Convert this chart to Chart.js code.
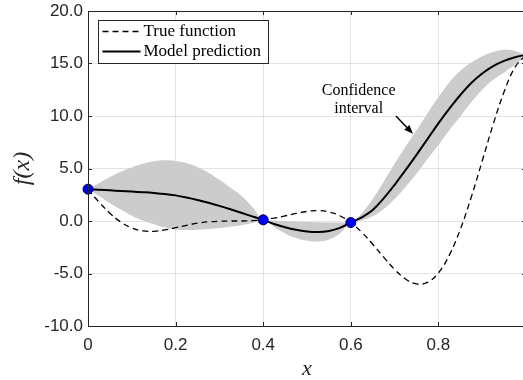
<!DOCTYPE html>
<html>
<head>
<meta charset="utf-8">
<script src="https://cdn.jsdelivr.net/npm/chart.js@4.4.1/dist/chart.umd.min.js"></script>
<style>
  html, body { margin: 0; padding: 0; background: #fff; overflow: hidden; }
  #wrap { width: 526px; height: 380px; }
</style>
</head>
<body>
<div id="wrap"><canvas id="chart" width="526" height="380"></canvas></div>
<script>
// sample positions along x
const xs = [0, 0.025, 0.05, 0.075, 0.1, 0.125, 0.15, 0.175, 0.2, 0.225, 0.25, 0.275, 0.3, 0.325, 0.35, 0.375,
  0.4, 0.425, 0.45, 0.475, 0.5, 0.525, 0.55, 0.575, 0.6, 0.625, 0.65, 0.675, 0.7, 0.725, 0.75, 0.775,
  0.8, 0.825, 0.85, 0.875, 0.9, 0.925, 0.95, 0.975, 1];

// true function (dashed)
const trueY = [3.03, 1.81, 0.74, -0.10, -0.66, -0.94, -0.98, -0.85, -0.64, -0.41, -0.21, -0.08, -0.02, 0.00, 0.00, 0.03,
  0.11, 0.27, 0.48, 0.72, 0.91, 0.99, 0.87, 0.50, -0.15, -1.07, -2.21, -3.44, -4.61, -5.52, -5.99, -5.85,
  -4.95, -3.25, -0.80, 2.27, 5.71, 9.19, 12.30, 14.65, 15.83];

// model prediction (solid)
const meanY = [3.03, 2.97, 2.92, 2.86, 2.80, 2.74, 2.67, 2.58, 2.44, 2.24, 2.00, 1.73, 1.44, 1.12, 0.78, 0.44,
  0.11, -0.28, -0.60, -0.84, -0.99, -1.04, -0.95, -0.66, -0.15, 0.35, 1.05, 2.15, 3.45, 4.85, 6.30, 7.80,
  9.30, 10.70, 12.00, 13.15, 14.05, 14.75, 15.25, 15.60, 15.83];

// confidence interval edges
const upperY = [3.03, 3.60, 4.20, 4.70, 5.10, 5.45, 5.68, 5.78, 5.72, 5.52, 5.14, 4.60, 3.92, 3.18, 2.40, 1.35,
  0.11, 0.05, 0.00, -0.05, -0.10, -0.13, -0.15, -0.15, -0.15, 0.75, 2.10, 3.75, 5.45, 7.10, 8.65, 10.25,
  11.80, 13.20, 14.30, 15.10, 15.70, 16.10, 16.30, 16.20, 15.83];
const lowerY = [3.03, 2.40, 1.70, 1.10, 0.50, 0.05, -0.30, -0.62, -0.80, -0.86, -0.84, -0.77, -0.66, -0.54, -0.40, -0.20,
  0.11, -0.58, -1.18, -1.62, -1.88, -1.95, -1.75, -1.18, -0.15, 0.05, 0.45, 1.15, 2.10, 3.25, 4.50, 5.90,
  7.25, 8.65, 9.95, 11.30, 12.50, 13.45, 14.15, 14.90, 15.83];

// observed samples (the one at x = 1 sits off the visible edge)
const obsX = [0, 0.4, 0.6];
const obsY = [3.03, 0.11, -0.15];

const xTicks = [0, 0.2, 0.4, 0.6, 0.8, 1];
const yTicks = [-10, -5, 0, 5, 10, 15, 20];
const legendLabels = ['True function', 'Model prediction'];
const noteLines = ['Confidence', 'interval'];

// annotation placement in data units
const notePos = { x: 0.618, y: 12.4 };
const arrowFrom = { x: 0.703, y: 10.0 };
const arrowTo = { x: 0.742, y: 8.3 };

const AXIS = '#262626';
const SERIF = '"Liberation Serif", "Times New Roman", serif';
const SANS = '"Liberation Sans", Arial, Helvetica, sans-serif';

const pts = (ys) => xs.map((x, i) => ({ x: x, y: ys[i] }));





// box, inside tick marks, legend and the text note
const decor = {
  id: 'decor',
  afterDatasetsDraw(chart) {
    const { ctx, chartArea: a, scales: { x, y } } = chart;
    ctx.save();
    ctx.strokeStyle = AXIS;
    ctx.lineWidth = 1;
    ctx.beginPath();
    xTicks.forEach(v => {
      const px = Math.round(x.getPixelForValue(v)) + 0.5;
      ctx.moveTo(px, a.bottom); ctx.lineTo(px, a.bottom - 4);
      ctx.moveTo(px, a.top); ctx.lineTo(px, a.top + 4);
    });
    yTicks.forEach(v => {
      const py = Math.round(y.getPixelForValue(v)) + 0.5;
      ctx.moveTo(a.left, py); ctx.lineTo(a.left + 4, py);
      ctx.moveTo(a.right, py); ctx.lineTo(a.right - 4, py);
    });
    ctx.stroke();
    ctx.strokeRect(Math.round(a.left) + 0.5, Math.round(a.top) + 0.5,
      Math.round(a.right - a.left) - 1, Math.round(a.bottom - a.top));
    ctx.restore();
  },
  afterDraw(chart) {
    const { ctx, chartArea: a, scales: { x, y } } = chart;
    ctx.save();

    // legend
    const lx = Math.round(a.left) + 10.5, ly = Math.round(a.top) + 9.5;
    ctx.fillStyle = '#fff';
    ctx.fillRect(lx, ly, 170, 43);
    ctx.strokeStyle = AXIS;
    ctx.lineWidth = 1;
    ctx.strokeRect(lx, ly, 170, 43);
    ctx.strokeStyle = '#000';
    ctx.lineWidth = 1.3;
    ctx.setLineDash([6, 4]);
    ctx.beginPath(); ctx.moveTo(lx + 4, ly + 11); ctx.lineTo(lx + 42, ly + 11); ctx.stroke();
    ctx.setLineDash([]);
    ctx.lineWidth = 2;
    ctx.beginPath(); ctx.moveTo(lx + 4, ly + 31); ctx.lineTo(lx + 42, ly + 31); ctx.stroke();
    ctx.fillStyle = '#000';
    ctx.font = '17px ' + SERIF;
    ctx.textBaseline = 'middle';
    ctx.textAlign = 'left';
    ctx.fillText(legendLabels[0], lx + 45, ly + 11);
    ctx.fillText(legendLabels[1], lx + 45, ly + 31);

    // note with arrow
    const nx = x.getPixelForValue(notePos.x), ny = y.getPixelForValue(notePos.y);
    ctx.textAlign = 'center';
    ctx.font = '16px ' + SERIF;
    noteLines.forEach((t, i) => ctx.fillText(t, nx, ny + i * 18));
    const x1 = x.getPixelForValue(arrowFrom.x), y1 = y.getPixelForValue(arrowFrom.y);
    const x2 = x.getPixelForValue(arrowTo.x), y2 = y.getPixelForValue(arrowTo.y);
    const ang = Math.atan2(y2 - y1, x2 - x1);
    ctx.lineWidth = 1.5;
    ctx.beginPath(); ctx.moveTo(x1, y1); ctx.lineTo(x2 - 6 * Math.cos(ang), y2 - 6 * Math.sin(ang)); ctx.stroke();
    ctx.beginPath();
    ctx.moveTo(x2, y2);
    ctx.lineTo(x2 - 9 * Math.cos(ang) + 3.5 * Math.sin(ang), y2 - 9 * Math.sin(ang) - 3.5 * Math.cos(ang));
    ctx.lineTo(x2 - 9 * Math.cos(ang) - 3.5 * Math.sin(ang), y2 - 9 * Math.sin(ang) + 3.5 * Math.cos(ang));
    ctx.closePath();
    ctx.fill();
    ctx.restore();
  }
};





new Chart(document.getElementById('chart'), {
  type: 'line',
  data: {
    datasets: [
      {
        label: 'Samples',
        data: obsX.map((x, i) => ({ x: x, y: obsY[i] })),
        showLine: false,
        pointRadius: 5,
        pointBackgroundColor: '#0000f0',
        pointBorderColor: '#00005a',
        pointBorderWidth: 1,
        clip: false,
        order: 0
      },
      {
        label: legendLabels[1],
        data: pts(meanY),
        borderColor: '#000',
        borderWidth: 2,
        pointRadius: 0,
        tension: 0.4,
        fill: false,
        order: 1
      },
      {
        label: legendLabels[0],
        data: pts(trueY),
        borderColor: '#000',
        borderWidth: 1.3,
        borderDash: [6, 4],
        pointRadius: 0,
        tension: 0.4,
        fill: false,
        order: 2
      },
      {
        label: 'Upper',
        data: pts(upperY),
        borderWidth: 0,
        borderColor: 'rgba(0,0,0,0)',
        backgroundColor: '#cccccc',
        pointRadius: 0,
        tension: 0.4,
        fill: '+1',
        order: 3
      },
      {
        label: 'Lower',
        data: pts(lowerY),
        borderWidth: 0,
        borderColor: 'rgba(0,0,0,0)',
        pointRadius: 0,
        tension: 0.4,
        fill: false,
        order: 4
      }
    ]
  },
  options: {
    responsive: false,
    animation: false,
    devicePixelRatio: 1,
    layout: { autoPadding: false, padding: { top: 11, left: 0, right: 0, bottom: 0 } },
    plugins: {
      legend: { display: false },
      tooltip: { enabled: false }
    },
    scales: {
      x: {
        type: 'linear',
        min: 0,
        max: 1,
        afterBuildTicks: (s) => { s.ticks = xTicks.map(v => ({ value: v })); },
        afterFit: (s) => { s.height = 54; s.paddingLeft = 0; s.paddingRight = 0; },
        ticks: {
          callback: (v) => (v === 1 ? '' : String(v)),
          font: { family: SANS, size: 17 },
          color: AXIS,
          padding: 9,
          maxRotation: 0
        },
        grid: { color: 'rgba(38,38,38,0.13)', drawTicks: false },
        border: { display: false },
        title: {
          display: true,
          text: 'x',
          font: { family: SERIF, size: 22, style: 'italic' },
          color: AXIS,
          padding: { top: 0, bottom: -2 }
        }
      },
      y: {
        min: -10,
        max: 20,
        afterBuildTicks: (s) => { s.ticks = yTicks.map(v => ({ value: v })); },
        afterFit: (s) => { s.width = 88; s.paddingTop = 0; s.paddingBottom = 0; },
        ticks: {
          callback: (v) => v.toFixed(1),
          font: { family: SANS, size: 17 },
          color: AXIS,
          padding: 5
        },
        grid: { color: 'rgba(38,38,38,0.13)', drawTicks: false },
        border: { display: false },
        title: {
          display: true,
          text: 'f(x)',
          font: { family: SERIF, size: 24, style: 'italic' },
          color: AXIS,
          padding: { top: 8, bottom: 0 }
        }
      }
    }
  },
  plugins: [decor]
});
</script>
</body>
</html>
